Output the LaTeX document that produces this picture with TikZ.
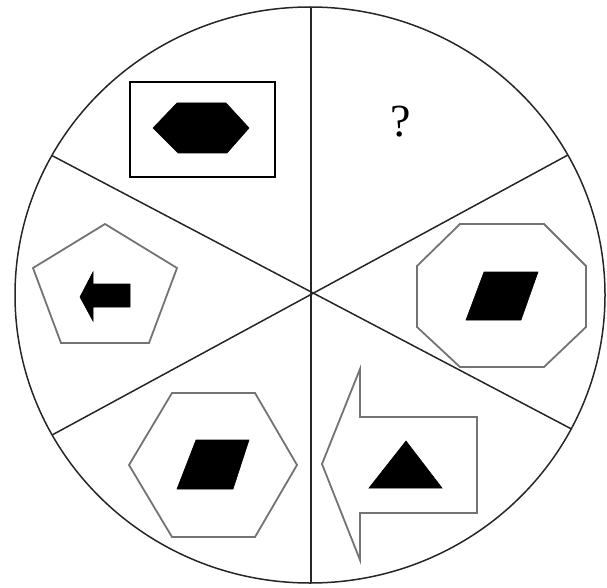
\documentclass[tikz,border=0pt]{standalone}
\usepackage{fontspec}
\setmainfont{Liberation Serif}
\begin{document}
\begin{tikzpicture}[x=1pt,y=-1pt,
  rim/.style={draw=black!85,line width=1.5pt},
  grayline/.style={draw=black!55,line width=1.8pt,line join=miter},
  blackfill/.style={fill=black,draw=black,line width=0.6pt,line join=miter}]
\useasboundingbox (0,0) rectangle (607,588);
% circle and dividers
\coordinate (O) at (310,295);
\draw[rim] (O) ellipse [x radius=295, y radius=288];
\coordinate (T) at (311,0);
\coordinate (B) at (311,588);
\coordinate (UL) at (30,144);
\coordinate (UR) at (590,143);
\coordinate (LL) at (30,447);
\coordinate (LR) at (600,444);
\begin{scope}
\clip (O) ellipse [x radius=295, y radius=288];
\draw[rim] (T) -- (B);
\draw[rim] (UL) -- (LR);
\draw[rim] (UR) -- (LL);
\end{scope}
% top-left: rectangle with hexagon
\draw[draw=black,line width=1.8pt] (130,82) rectangle (275,177);
\fill[blackfill] (153,128) -- (177,103) -- (226,103) -- (249,128) -- (227,153) -- (178,153) -- cycle;
% left: pentagon with arrow
\draw[grayline] (105,224) -- (177,268) -- (149,343) -- (61,343) -- (33,268) -- cycle;
\fill[blackfill] (80,297) -- (93,272) -- (93,284) -- (130,284) -- (130,307) -- (93,307) -- (93,321) -- cycle;
% bottom-left: hexagon with parallelogram
\draw[grayline] (172,393) -- (255,393) -- (297,465) -- (255,537) -- (172,537) -- (129,465) -- cycle;
\fill[blackfill] (196,440) -- (249,440) -- (233,489) -- (177,489) -- cycle;
% bottom-right: arrow with triangle
\draw[grayline] (322,464) -- (360,369) -- (360,417) -- (477,417) -- (477,513) -- (360,513) -- (360,560) -- cycle;
\fill[blackfill] (406,441) -- (442,488) -- (369,488) -- cycle;
% right: octagon with parallelogram
\draw[grayline] (460,224) -- (544,224) -- (586,266) -- (586,327) -- (544,367) -- (460,367) -- (417,327) -- (417,266) -- cycle;
\fill[blackfill] (484,272) -- (538,272) -- (521,320) -- (466,320) -- cycle;
% question mark
\node[inner sep=0pt,font=\fontsize{46}{46}\selectfont] (q) at (401,122) {?};
\end{tikzpicture}
\end{document}
